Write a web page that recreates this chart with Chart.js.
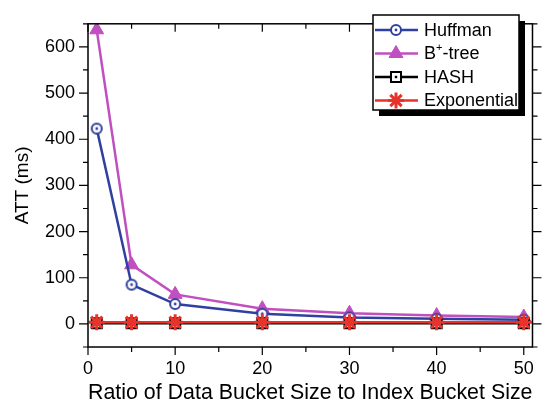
<!DOCTYPE html>
<html lang="en">
<head>
  <meta charset="UTF-8">
  <title>ATT vs bucket size ratio</title>
  <script src="https://cdn.jsdelivr.net/npm/chart.js"></script>
  <style>
    html, body { margin: 0; padding: 0; background: #fff; }
    #wrap { width: 545px; height: 410px; }
  </style>
</head>
<body>
  <div id="wrap"><canvas id="attChart" width="545" height="410"></canvas></div>

  <script>
    // ratio of data bucket size to index bucket size
    const ratios = [1, 5, 10, 20, 30, 40, 50];
    const huffman = [423, 85, 43, 22, 14, 11, 9];
    const bTree = [637, 128, 64, 33, 23, 18, 15];
    const hash = [1.5, 1.5, 1.5, 1.5, 1.5, 1.5, 1.5];
    const exponential = [3.5, 3.5, 3.5, 3.5, 3.5, 3.5, 3.5];

    const seriesNames = ['Huffman', 'B+-tree', 'HASH', 'Exponential'];

    const xTicks = [0, 10, 20, 30, 40, 50];
    const xMinor = [5, 15, 25, 35, 45];
    const yTicks = [0, 100, 200, 300, 400, 500, 600];
    const yMinor = [-50, 50, 150, 250, 350, 450, 550, 650];

    const FONT = "'Liberation Sans', Arial, sans-serif";
    const BLUE = '#3040a0';
    const MAGENTA = '#c04fbf';
    const RED = '#e8322a';

    function marker(size, draw) {
      const c = document.createElement('canvas');
      c.width = size; c.height = size;
      draw(c.getContext('2d'), size / 2);
      return c;
    }

    const circleDot = marker(14, (g, m) => {
      g.beginPath(); g.arc(m, m, 5, 0, Math.PI * 2);
      g.fillStyle = '#fff'; g.fill();
      g.lineWidth = 2; g.strokeStyle = BLUE; g.stroke();
      g.beginPath(); g.arc(m, m, 1.4, 0, Math.PI * 2);
      g.fillStyle = BLUE; g.fill();
    });

    const squareDot = marker(14, (g, m) => {
      g.fillStyle = '#fff'; g.fillRect(m - 5, m - 5, 10, 10);
      g.lineWidth = 2; g.strokeStyle = '#000'; g.strokeRect(m - 5, m - 5, 10, 10);
      g.fillStyle = '#000'; g.fillRect(m - 1.2, m - 1.2, 2.4, 2.4);
    });

    const toPoints = arr => arr.map((v, i) => ({ x: ratios[i], y: v }));

    // origin-style frame with tick marks on every side
    const framePlugin = {
      id: 'frame',
      afterDraw(chart) {
        const { ctx, chartArea: a, scales } = chart;
        ctx.save();
        ctx.strokeStyle = '#000';
        ctx.lineWidth = 1.5;
        ctx.strokeRect(a.left, a.top, a.right - a.left, a.bottom - a.top);
        ctx.lineWidth = 1.2;
        ctx.beginPath();
        const xt = (v, len) => {
          const px = scales.x.getPixelForValue(v);
          ctx.moveTo(px, a.bottom); ctx.lineTo(px, a.bottom + len);
          ctx.moveTo(px, a.top); ctx.lineTo(px, a.top + len);
        };
        const yt = (v, len) => {
          const py = scales.y.getPixelForValue(v);
          ctx.moveTo(a.left, py); ctx.lineTo(a.left - len, py);
          ctx.moveTo(a.right, py); ctx.lineTo(a.right + len, py);
        };
        xTicks.forEach(v => xt(v, 8));
        xMinor.forEach(v => xt(v, 5));
        yTicks.forEach(v => yt(v, 9));
        yMinor.forEach(v => yt(v, 5));
        ctx.stroke();
        ctx.restore();
      }
    };

    const legendPlugin = {
      id: 'boxLegend',
      afterDraw(chart) {
        const ctx = chart.ctx;
        const left = 373, top = 15, w = 146, h = 95;
        ctx.save();
        ctx.fillStyle = '#000';
        ctx.fillRect(left + 6, top + 6, w, h);
        ctx.fillStyle = '#fff';
        ctx.fillRect(left, top, w, h);
        ctx.lineWidth = 1.5;
        ctx.strokeStyle = '#000';
        ctx.strokeRect(left, top, w, h);

        chart.data.datasets.forEach((ds, i) => {
          const y = 30 + i * 23.5;
          ctx.strokeStyle = ds.borderColor;
          ctx.lineWidth = 2.5;
          ctx.beginPath(); ctx.moveTo(375, y); ctx.lineTo(418, y); ctx.stroke();
          ctx.fillStyle = ds.pointBackgroundColor;
          ctx.strokeStyle = ds.pointBorderColor;
          ctx.lineWidth = ds.pointBorderWidth;
          Chart.helpers.drawPoint(ctx, {
            pointStyle: ds.pointStyle, radius: ds.pointRadius,
            borderWidth: ds.pointBorderWidth, rotation: 0
          }, 396, y);

          ctx.fillStyle = '#000';
          ctx.textBaseline = 'middle';
          ctx.textAlign = 'left';
          ctx.font = '18px ' + FONT;
          const label = ds.label;
          if (label.indexOf('+') === 1) {
            ctx.fillText(label[0], 424, y + 1);
            const bw = ctx.measureText(label[0]).width;
            ctx.font = '11px ' + FONT;
            ctx.fillText('+', 424 + bw, y - 6);
            const pw = ctx.measureText('+').width;
            ctx.font = '18px ' + FONT;
            ctx.fillText(label.slice(2), 424 + bw + pw, y + 1);
          } else {
            ctx.fillText(label, 424, y + 1);
          }
        });
        ctx.restore();
      }
    };

    new Chart(document.getElementById('attChart'), {
      type: 'line',
      data: {
        datasets: [
          {
            label: seriesNames[0], data: toPoints(huffman), order: 1,
            borderColor: BLUE, borderWidth: 2.5,
            pointStyle: circleDot, pointRadius: 6,
            pointBackgroundColor: '#fff', pointBorderColor: BLUE, pointBorderWidth: 2
          },
          {
            label: seriesNames[1], data: toPoints(bTree), order: 2,
            borderColor: MAGENTA, borderWidth: 2.5,
            pointStyle: 'triangle', pointRadius: 8,
            pointBackgroundColor: MAGENTA, pointBorderColor: MAGENTA, pointBorderWidth: 1
          },
          {
            label: seriesNames[2], data: toPoints(hash), order: 0,
            borderColor: '#000', borderWidth: 2.5,
            pointStyle: squareDot, pointRadius: 6,
            pointBackgroundColor: '#fff', pointBorderColor: '#000', pointBorderWidth: 2
          },
          {
            label: seriesNames[3], data: toPoints(exponential), order: -1,
            borderColor: RED, borderWidth: 2.5,
            pointStyle: 'star', pointRadius: 8,
            pointBackgroundColor: RED, pointBorderColor: RED, pointBorderWidth: 3
          }
        ]
      },
      options: {
        responsive: false,
        animation: false,
        layout: { padding: { top: 5, right: 11, left: 0, bottom: 0 } },
        plugins: { legend: { display: false }, tooltip: { enabled: false } },
        elements: { line: { tension: 0 } },
        scales: {
          x: {
            type: 'linear', min: 0, max: 51,
            afterBuildTicks: s => { s.ticks = xTicks.map(v => ({ value: v })); },
            afterFit: s => { s.height = 63; },
            grid: { drawOnChartArea: false, drawTicks: false },
            border: { display: false },
            ticks: { color: '#000', font: { family: FONT, size: 18 }, padding: 11, maxRotation: 0 },
            title: {
              display: true, text: 'Ratio of Data Bucket Size to Index Bucket Size',
              color: '#000', font: { family: FONT, size: 22 }, padding: { top: 0 }
            }
          },
          y: {
            type: 'linear', min: -50, max: 650,
            afterBuildTicks: s => { s.ticks = yTicks.map(v => ({ value: v })); },
            afterFit: s => { s.width = 88; },
            grid: { drawOnChartArea: false, drawTicks: false },
            border: { display: false },
            ticks: { color: '#000', font: { family: FONT, size: 18 }, padding: 13 },
            title: {
              display: true, text: 'ATT (ms)',
              color: '#000', font: { family: FONT, size: 19 }, padding: { top: 11, bottom: 0 }
            }
          }
        }
      },
      plugins: [framePlugin, legendPlugin]
    });
  </script>
</body>
</html>
